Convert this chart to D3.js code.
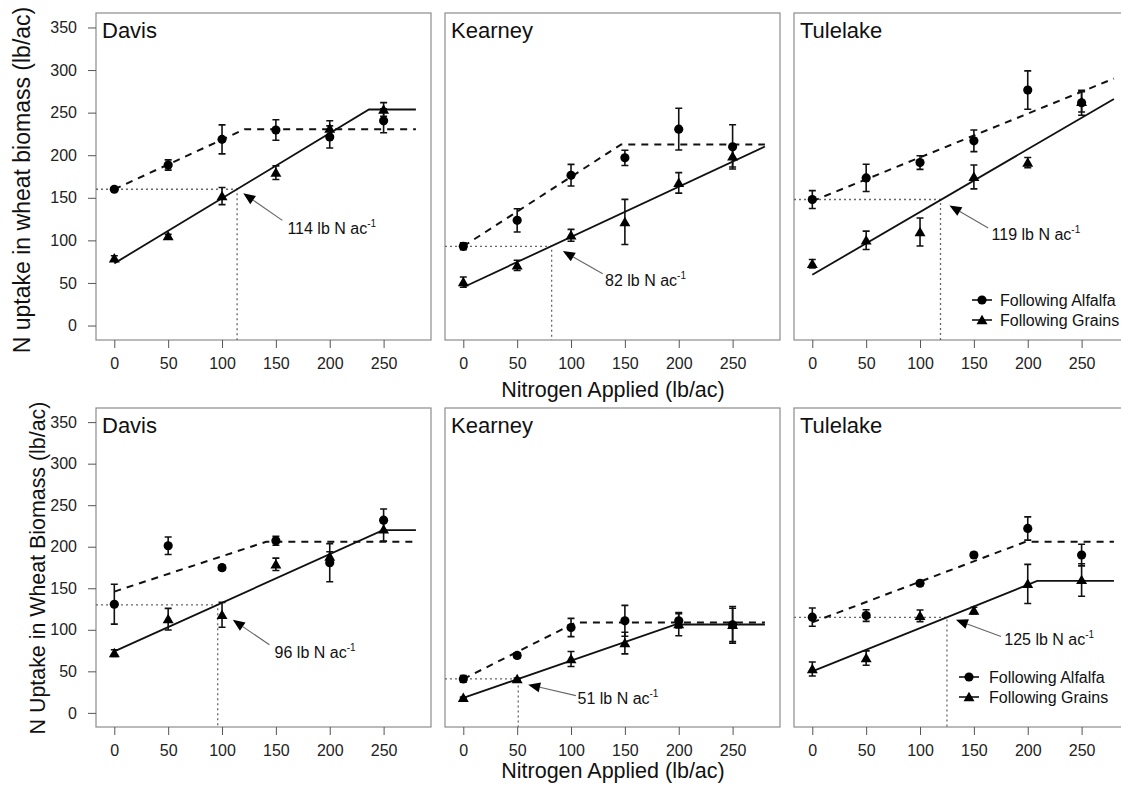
<!DOCTYPE html>
<html><head><meta charset="utf-8">
<script src="https://cdn.jsdelivr.net/npm/d3@7"></script>
<style>
body{margin:0;background:#fff}
svg{display:block}
text{font-family:"Liberation Sans",Arial,Helvetica,sans-serif}
</style>
</head><body>
<svg id="c" width="1121" height="786"></svg>
<script>
// ---------------- data ----------------
const sites = ["Davis", "Kearney", "Tulelake"];
const nRates = [0, 50, 100, 150, 200, 250];
const xTicks = [0, 50, 100, 150, 200, 250];
const yTicks = [0, 50, 100, 150, 200, 250, 300, 350];
const seriesNames = ["Following Alfalfa", "Following Grains"];

// top row: N uptake in wheat biomass
const topAlfalfaMean = [
  [160, 188.5, 218.6, 229.6, 221.5, 240.4],
  [93, 123.5, 176.5, 196.9, 230.6, 209.8],
  [147.9, 173.3, 191.4, 216.9, 276.5, 261.6]];
const topAlfalfaSE = [
  [2, 6, 17, 12, 13, 14],
  [4, 13.7, 12.7, 9, 24.5, 26],
  [10.5, 16, 8, 12.7, 22.5, 14.7]];
const topGrainsMean = [
  [79, 105, 152, 179.5, 231.4, 253.7],
  [51, 70.6, 105.9, 121.6, 167.5, 198.8],
  [72.5, 100, 109.8, 174.5, 191.4, 262.7]];
const topGrainsSE = [
  [3, 2, 10, 8, 9, 8],
  [6, 6, 7, 26.5, 12, 12.7],
  [5, 10.8, 16.5, 14, 6, 12]];
// fitted linear-plateau: [value at 0, break x, value at break]
const topAlfalfaFit = [[160, 121, 230.5], [93, 146.5, 212.6], [146, 280, 290]];
const topGrainsFit = [[73, 236.4, 253.7], [45, 280, 210.2], [59.6, 280, 266]];
// optimum N: [N applied, uptake level]
const topOptimum = [[114, 160], [82, 93], [119, 148]];
const topLabels = ["114 lb N ac", "82 lb N ac", "119 lb N ac"];
const topArrowTip = [[119.7, 155.3], [92.4, 87.4], [127.3, 141]];
const topArrowFrom = [[156, 123.5], [129.4, 60.8], [163.3, 114.5]];
const topLabelAt = [[160.7, 108], [131.6, 45.9], [166.4, 100]];

// bottom row: N Uptake in Wheat Biomass
const botAlfalfaMean = [
  [130.8, 201.2, 174.8, 207.2, 180.8, 232],
  [40.8, 69.2, 102.8, 110.8, 110.8, 106],
  [115.2, 117.2, 156, 190, 222, 190]];
const botAlfalfaSE = [
  [24, 10.5, 3, 5.5, 23, 13.5],
  [4, 3, 11, 18.6, 8.6, 22],
  [11, 7, 3, 3, 14, 13]];
const botGrainsMean = [
  [72, 112.8, 118, 178.8, 188, 220.8],
  [18, 40.8, 64.8, 84, 106.8, 106],
  [52.8, 66, 116.8, 123.2, 155.2, 160]];
const botGrainsSE = [
  [4, 13, 15, 7.5, 6, 14],
  [1, 1, 9, 13, 14, 20],
  [8.4, 8.6, 7, 4, 23.6, 19.6]];
const botAlfalfaFit = [[146, 141, 206], [40.8, 104.4, 108.8], [109, 198, 206]];
const botGrainsFit = [[74, 249.4, 220], [18, 197.3, 106.4], [50, 208.8, 158.8]];
const botOptimum = [[96, 130], [51, 41], [125, 115]];
const botLabels = ["96 lb N ac", "51 lb N ac", "125 lb N ac"];
const botArrowTip = [[110, 112], [60.2, 34], [133.3, 112]];
const botArrowFrom = [[144, 82], [104.5, 20.8], [175.2, 92]];
const botLabelAt = [[148.8, 66.4], [106, 11.2], [178.2, 82]];

// ---------------- layout ----------------
const xDomain = [-17, 294];
const yDomain = [-17, 367];
const xEnd = 280;
const panelLefts = [96, 445, 794];
const panelW = 335;
const rows = [
  {top: 13, h: 327, ylab: "N uptake in wheat biomass (lb/ac)", ylabX: 30, ylabY: 180, ylabSize: 23, xlabY: 397,
   aM: topAlfalfaMean, aS: topAlfalfaSE, gM: topGrainsMean, gS: topGrainsSE, aF: topAlfalfaFit, gF: topGrainsFit,
   opt: topOptimum, lab: topLabels, tip: topArrowTip, from: topArrowFrom, labAt: topLabelAt,
   legTextDx: 206, legRows: [40, 20], legLine: [-28, -8]},
  {top: 408, h: 319, ylab: "N Uptake in Wheat Biomass (lb/ac)", ylabX: 45, ylabY: 568, ylabSize: 21.4, xlabY: 778,
   aM: botAlfalfaMean, aS: botAlfalfaSE, gM: botGrainsMean, gS: botGrainsSE, aF: botAlfalfaFit, gF: botGrainsFit,
   opt: botOptimum, lab: botLabels, tip: botArrowTip, from: botArrowFrom, labAt: botLabelAt,
   legTextDx: 195, legRows: [50, 30], legLine: [-30, -10]}
];

const svg = d3.select("#c");
svg.append("rect").attr("width", 1121).attr("height", 786).attr("fill", "#fff");

const circleSym = d3.symbol().type(d3.symbolCircle).size(66);
const triSym = d3.symbol().type(d3.symbolTriangle).size(52);

rows.forEach((row) => {
  // y-axis title
  svg.append("text")
    .attr("transform", `translate(${row.ylabX},${row.ylabY}) rotate(-90)`)
    .attr("text-anchor", "middle").attr("font-size", row.ylabSize).attr("fill", "#111")
    .text(row.ylab);
  // x-axis title
  svg.append("text")
    .attr("x", 613).attr("y", row.xlabY).attr("text-anchor", "middle")
    .attr("font-size", 21.5).attr("fill", "#111").text("Nitrogen Applied (lb/ac)");

  sites.forEach((site, i) => {
    const x0 = panelLefts[i];
    const x = d3.scaleLinear().domain(xDomain).range([x0, x0 + panelW]);
    const y = d3.scaleLinear().domain(yDomain).range([row.top + row.h, row.top]);
    const g = svg.append("g");
    const line = d3.line().x(d => x(d[0])).y(d => y(d[1]));

    // frame
    g.append("rect").attr("x", x0).attr("y", row.top).attr("width", panelW).attr("height", row.h)
      .attr("fill", "none").attr("stroke", "#8c8c8c").attr("stroke-width", 1.2);

    // x axis
    const xa = g.append("g").attr("transform", `translate(0,${row.top + row.h})`)
      .call(d3.axisBottom(x).tickValues(xTicks).tickSize(8).tickPadding(10));
    xa.select(".domain").remove();
    xa.selectAll("line").attr("stroke", "#555");
    xa.selectAll("text").attr("font-size", 16).attr("fill", "#222")
      .style("font-family", '"Liberation Sans",Arial,sans-serif');

    if (i === 0) {
      const ya = g.append("g").attr("transform", `translate(${x0},0)`)
        .call(d3.axisLeft(y).tickValues(yTicks).tickSize(8).tickPadding(11));
      ya.select(".domain").remove();
      ya.selectAll("line").attr("stroke", "#555");
      ya.selectAll("text").attr("font-size", 16).attr("fill", "#222")
        .style("font-family", '"Liberation Sans",Arial,sans-serif');
    }

    // dotted reference lines for optimum N
    const [on, oy] = row.opt[i];
    g.append("path").attr("d", line([[xDomain[0], oy], [on, oy], [on, yDomain[0]]]))
      .attr("fill", "none").attr("stroke", "#666").attr("stroke-width", 1.3).attr("stroke-dasharray", "2,3");

    // fitted lines
    const fitPts = f => [[0, f[0]], [f[1], f[2]], [xEnd, f[2]]];
    g.append("path").attr("d", line(fitPts(row.aF[i])))
      .attr("fill", "none").attr("stroke", "#111").attr("stroke-width", 2).attr("stroke-dasharray", "7,6");
    g.append("path").attr("d", line(fitPts(row.gF[i])))
      .attr("fill", "none").attr("stroke", "#111").attr("stroke-width", 1.8);

    // error bars
    const drawErr = (means, ses) => {
      nRates.forEach((n, k) => {
        const cx = x(n), lo = y(means[k] - ses[k]), hi = y(means[k] + ses[k]);
        g.append("path")
          .attr("d", `M${cx},${lo}V${hi}M${cx - 3.5},${lo}H${cx + 3.5}M${cx - 3.5},${hi}H${cx + 3.5}`)
          .attr("stroke", "#111").attr("stroke-width", 1.6).attr("fill", "none");
      });
    };
    drawErr(row.aM[i], row.aS[i]);
    drawErr(row.gM[i], row.gS[i]);

    // points
    g.selectAll(null).data(row.aM[i]).join("path")
      .attr("d", circleSym).attr("transform", (d, k) => `translate(${x(nRates[k])},${y(d)})`)
      .attr("fill", "#000");
    g.selectAll(null).data(row.gM[i]).join("path")
      .attr("d", triSym).attr("transform", (d, k) => `translate(${x(nRates[k])},${y(d) + 1})`)
      .attr("fill", "#000");

    // annotation arrow
    const [tx, ty] = [x(row.tip[i][0]), y(row.tip[i][1])];
    const [fx, fy] = [x(row.from[i][0]), y(row.from[i][1])];
    const ang = Math.atan2(ty - fy, tx - fx);
    const L = 12, W = 5;
    const bx = tx - L * Math.cos(ang), by = ty - L * Math.sin(ang);
    g.append("path").attr("d", `M${fx},${fy}L${bx},${by}`).attr("stroke", "#666").attr("stroke-width", 1.1);
    g.append("path")
      .attr("d", `M${tx},${ty}L${bx + W * Math.sin(ang)},${by - W * Math.cos(ang)}L${bx - W * Math.sin(ang)},${by + W * Math.cos(ang)}Z`)
      .attr("fill", "#000");
    const t = g.append("text").attr("x", x(row.labAt[i][0])).attr("y", y(row.labAt[i][1]))
      .attr("font-size", 16).attr("fill", "#111");
    t.append("tspan").text(row.lab[i]);
    t.append("tspan").attr("dy", -7).attr("font-size", 10).text("-1");

    // site title
    g.append("text").attr("x", x0 + 6).attr("y", row.top + 25)
      .attr("font-size", 22).attr("fill", "#111").text(site);

    // legend
    if (i === 2) {
      const bottom = row.top + row.h;
      const tx0 = x0 + row.legTextDx;
      [circleSym, triSym].forEach((sym, k) => {
        const ly = bottom - row.legRows[k];
        const l1 = tx0 + row.legLine[0], l2 = tx0 + row.legLine[1];
        g.append("line").attr("x1", l1).attr("x2", l2).attr("y1", ly).attr("y2", ly)
          .attr("stroke", "#111").attr("stroke-width", 1.6);
        g.append("path").attr("d", sym).attr("transform", `translate(${(l1 + l2) / 2},${ly + (k ? 1 : 0)})`).attr("fill", "#000");
        g.append("text").attr("x", tx0).attr("y", ly + 5.5).attr("font-size", 16).attr("fill", "#111")
          .text(seriesNames[k]);
      });
    }
  });
});
</script>
</body></html>
